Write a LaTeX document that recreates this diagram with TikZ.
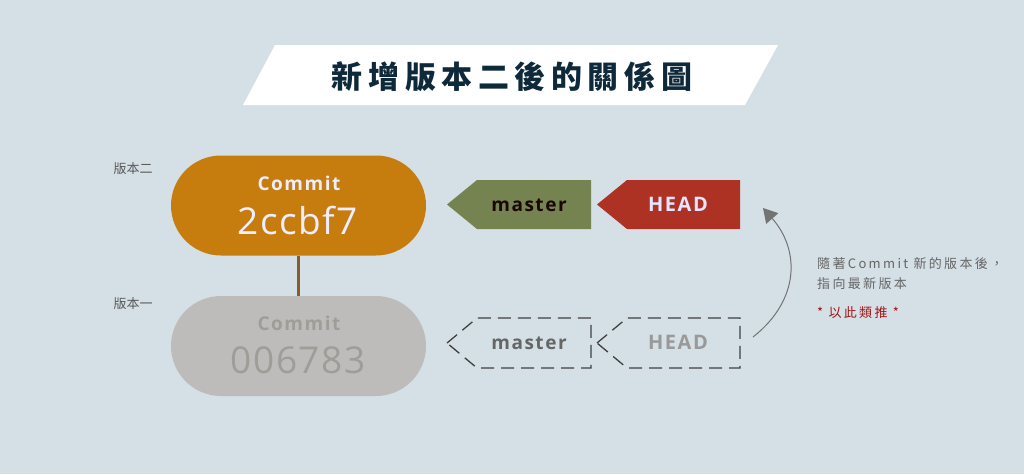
\documentclass[tikz,border=0pt]{standalone}
\usepackage{fontspec}
\setmainfont{Open Sans}
\newfontfamily\cjk{Noto Sans CJK TC}
\newfontfamily\cjkn[LetterSpace=18]{Noto Sans CJK TC}
\newfontfamily\cjkt[LetterSpace=18]{Noto Sans CJK TC}
\newfontfamily\lat[LetterSpace=8]{Open Sans}
\newfontfamily\latw[LetterSpace=4]{Open Sans}
\usetikzlibrary{arrows.meta}
\definecolor{bg}{HTML}{D5DFE6}
\definecolor{navy}{HTML}{0E2A3A}
\definecolor{orange}{HTML}{C77C0E}
\definecolor{grayc}{HTML}{BDBCBA}
\definecolor{graytxt}{HTML}{A09D99}
\definecolor{green}{HTML}{748350}
\definecolor{red}{HTML}{AE3224}
\definecolor{brownl}{HTML}{8B5A2B}
\definecolor{darkred}{HTML}{A31515}
\tikzset{
  commitbox/.style={rounded corners=50pt, minimum width=255pt, minimum height=100pt, inner sep=0pt},
  tagtxt/.style={font=\lat\bfseries\fontsize{19}{19}\selectfont, inner sep=0pt},
  side/.style={font=\cjk\fontsize{13}{13}\selectfont, text=black!65, inner sep=0pt},
  note/.style={font=\cjkn\fontsize{13}{20}\selectfont, text=black!60, inner sep=0pt, anchor=north west, align=left},
}
\begin{document}
\begin{tikzpicture}[x=1pt,y=-1pt]
\fill[bg] (0,0) rectangle (1024,474);
\useasboundingbox (0,0) rectangle (1024,474);
% title banner
\fill[white] (243,105) -- (275,45) -- (778,45) -- (745,105) -- cycle;
\node[font=\cjkt\bfseries\fontsize{31}{31}\selectfont, text=navy, inner sep=0pt] (title) at (512,77) {新增版本二後的關係圖};
% commits
\node[commitbox, fill=orange] (c2) at (298.5,205.5) {};
\node[commitbox, fill=grayc] (c1) at (298.5,346) {};
\draw[brownl, line width=3pt] (c2.south) -- (c1.north);
\node[font=\lat\bfseries\fontsize{19}{19}\selectfont, text=white!93!blue, inner sep=0pt] (c2a) at (299,183) {Commit};
\node[font=\latw\fontsize{37}{37}\selectfont, text=white!93!blue, inner sep=0pt] (c2b) at (298,221) {2ccbf7};
\node[font=\lat\bfseries\fontsize{19}{19}\selectfont, text=graytxt, inner sep=0pt] (c1a) at (299,323) {Commit};
\node[font=\latw\fontsize{37}{37}\selectfont, text=graytxt, inner sep=0pt] (c1b) at (298,360) {006783};
\node[side] (v2) at (133,169) {版本二};
\node[side] (v1) at (133,304) {版本一};
% tags, current
\fill[green] (447,204.5) -- (477,180) -- (591,180) -- (591,229) -- (477,229) -- cycle;
\node[tagtxt, text=black!85!red] (m2) at (529,205) {master};
\fill[red] (597,204.5) -- (627,180) -- (740,180) -- (740,229) -- (627,229) -- cycle;
\node[tagtxt, font=\lat\bfseries\fontsize{20}{20}\selectfont, text=white!90!blue] (h2) at (678,204) {HEAD};
% tags, old (dashed)
\draw[black!75, line width=1.3pt, dash pattern=on 13pt off 7pt] (447,343) -- (477,318) -- (591,318) -- (591,368) -- (477,368) -- cycle;
\node[tagtxt, text=black!60] (m1) at (529,343) {master};
\draw[black!75, line width=1.3pt, dash pattern=on 13pt off 7pt] (597,343) -- (627,318) -- (740,318) -- (740,368) -- (627,368) -- cycle;
\node[tagtxt, font=\lat\bfseries\fontsize{20}{20}\selectfont, text=black!40] (h1) at (678,342) {HEAD};
% curved arrow
\coordinate (ca) at (753,337);
\coordinate (cb) at (763,208);
\draw[black!55, line width=1pt, -{Triangle[length=14pt,width=16pt]}] (ca) .. controls (800,300) and (800,250) .. (cb);
% notes
\node[note] (n1) at (817,257) {隨著Commit 新的版本後，\\指向最新版本};
\node[font=\cjkn\fontsize{13}{13}\selectfont, text=darkred, inner sep=0pt, anchor=west] (n2) at (817,313) {*\ 以此類推 *};
\end{tikzpicture}
\end{document}
